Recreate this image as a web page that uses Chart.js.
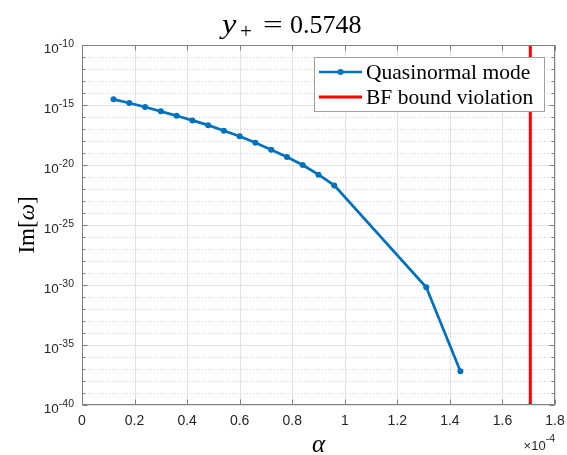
<!DOCTYPE html>
<html>
<head>
<meta charset="utf-8">
<script src="https://cdn.jsdelivr.net/npm/chart.js@4"></script>
<style>
html,body{margin:0;padding:0;background:#fff;}
canvas{display:block;background:#fff;}
</style>
</head>
<body>
<canvas id="c" width="567" height="455"></canvas>
<script>
// ---- data (alpha in units of 1e-4) ----
const alphaE4 = [0.12, 0.18, 0.24, 0.30, 0.36, 0.42, 0.48, 0.54, 0.60, 0.66, 0.72, 0.78, 0.84, 0.90, 0.96, 1.31, 1.44];
const imOmega = [2.95e-15, 1.48e-15, 6.8e-16, 2.95e-16, 1.29e-16, 5.2e-17, 2.1e-17, 7.2e-18, 2.45e-18, 7.2e-19, 1.86e-19, 4.7e-20, 1.0e-20, 1.55e-21, 2.0e-22, 6.5e-31, 6.5e-38];
const bfBoundAlphaE4 = 1.706;
const xTickValues = [0, 0.2, 0.4, 0.6, 0.8, 1.0, 1.2, 1.4, 1.6, 1.8];
const xTickLabels = ['0', '0.2', '0.4', '0.6', '0.8', '1', '1.2', '1.4', '1.6', '1.8'];
const yTickExponents = [-10, -15, -20, -25, -30, -35, -40];
const yTickLabels = ['-10', '-15', '-20', '-25', '-30', '-35', '-40'];
const seriesNames = ['Quasinormal mode', 'BF bound violation'];
const titleValue = '0.5748';

const BLUE = '#0072BD';
const RED = '#FF0000';
const AXIS = '#808080';
const TXT = '#262626';
const SANS = '"Liberation Sans", Arial, sans-serif';
const SERIF = '"Liberation Serif", "Times New Roman", serif';

const yMinExp = -40, yMaxExp = -10;

const decorPlugin = {
  id: 'decor',
  beforeDatasetsDraw(chart) {
    const ctx = chart.ctx, a = chart.chartArea, xs = chart.scales.x, ys = chart.scales.y;
    ctx.save();
    ctx.strokeStyle = '#e2e2e2'; ctx.lineWidth = 1; ctx.setLineDash([]);
    xTickValues.forEach(v => {
      const px = Math.round(xs.getPixelForValue(v)) + 0.5;
      ctx.beginPath(); ctx.moveTo(px, a.top); ctx.lineTo(px, a.bottom); ctx.stroke();
    });
    ctx.strokeStyle = '#d4d4d4'; ctx.setLineDash([1, 2]);
    for (let e = yMinExp; e <= yMaxExp; e++) {
      if (yTickExponents.includes(e)) continue;
      const py = Math.round(ys.getPixelForValue(Math.pow(10, e))) + 0.5;
      ctx.beginPath(); ctx.moveTo(a.left, py); ctx.lineTo(a.right, py); ctx.stroke();
    }
    ctx.strokeStyle = '#e2e2e2'; ctx.setLineDash([]);
    yTickExponents.forEach(e => {
      const py = Math.round(ys.getPixelForValue(Math.pow(10, e))) + 0.5;
      ctx.beginPath(); ctx.moveTo(a.left, py); ctx.lineTo(a.right, py); ctx.stroke();
    });
    ctx.restore();
  },
  afterDraw(chart) {
    const ctx = chart.ctx, a = chart.chartArea, xs = chart.scales.x, ys = chart.scales.y;
    ctx.save();
    ctx.strokeStyle = AXIS; ctx.lineWidth = 1; ctx.setLineDash([]);
    const L = Math.round(a.left) + 0.5, R = Math.round(a.right) - 0.5, T = Math.round(a.top) + 0.5, B = Math.round(a.bottom) - 0.5;
    ctx.strokeRect(L, T, R - L, B - T);
    xTickValues.forEach(v => {
      const px = Math.round(xs.getPixelForValue(v)) + 0.5;
      ctx.beginPath();
      ctx.moveTo(px, B); ctx.lineTo(px, B - 5);
      ctx.moveTo(px, T); ctx.lineTo(px, T + 5);
      ctx.stroke();
    });
    for (let e = yMinExp; e <= yMaxExp; e++) {
      const len = yTickExponents.includes(e) ? 5 : 3;
      const py = Math.round(ys.getPixelForValue(Math.pow(10, e))) + 0.5;
      ctx.beginPath();
      ctx.moveTo(L, py); ctx.lineTo(L + len, py);
      ctx.moveTo(R, py); ctx.lineTo(R - len, py);
      ctx.stroke();
    }
    ctx.fillStyle = TXT;
    ctx.font = '14px ' + SANS;
    ctx.textAlign = 'center'; ctx.textBaseline = 'alphabetic';
    xTickValues.forEach((v, i) => {
      ctx.fillText(xTickLabels[i], xs.getPixelForValue(v), a.bottom + 20);
    });
    yTickExponents.forEach((e, i) => {
      const py = ys.getPixelForValue(Math.pow(10, e));
      ctx.font = '10.5px ' + SANS;
      const sw = ctx.measureText(yTickLabels[i]).width;
      const supX = a.left - 8 - sw;
      ctx.textAlign = 'left';
      ctx.fillText(yTickLabels[i], supX, py + 1.5);
      ctx.font = '13.5px ' + SANS;
      ctx.textAlign = 'right';
      ctx.fillText('10', supX, py + 8);
    });
    ctx.font = '10.5px ' + SANS;
    const mw = ctx.measureText('-4').width;
    ctx.textAlign = 'left';
    ctx.fillText('-4', a.right - mw, 442);
    ctx.font = '13px ' + SANS;
    ctx.textAlign = 'right';
    ctx.fillText('\u00D710', a.right - mw, 450);

    // title: y_+ = 0.5748
    ctx.textAlign = 'left';
    ctx.fillStyle = '#000';
    ctx.save();
    ctx.translate(222, 33); ctx.scale(1.2, 1);
    ctx.font = 'italic 27px ' + SERIF;
    ctx.fillText('y', 0, 0);
    ctx.restore();
    ctx.font = '21px ' + SERIF;
    ctx.fillText('+', 240, 38);
    ctx.save();
    ctx.translate(263, 33); ctx.scale(1.35, 1);
    ctx.font = '26px ' + SERIF;
    ctx.fillText('=', 0, 0);
    ctx.restore();
    ctx.font = '26px ' + SERIF;
    ctx.fillText(titleValue, 290, 33);

    ctx.font = 'italic 25px ' + SERIF;
    ctx.textAlign = 'center';
    ctx.fillText('\u03B1', (a.left + a.right) / 2, 452);

    ctx.save();
    ctx.translate(34, (a.top + a.bottom) / 2);
    ctx.rotate(-Math.PI / 2);
    const parts = [['Im[', '23px ' + SERIF], ['\u03C9', 'italic 23px ' + SERIF], [']', '23px ' + SERIF]];
    let tw = 0;
    parts.forEach(p => { ctx.font = p[1]; tw += ctx.measureText(p[0]).width; });
    let cx = -tw / 2;
    ctx.textAlign = 'left';
    parts.forEach(p => { ctx.font = p[1]; ctx.fillText(p[0], cx, 0); cx += ctx.measureText(p[0]).width; });
    ctx.restore();

    // legend
    const lx = 314.5, ly = 57.5, lw = 230, lh = 54;
    ctx.fillStyle = '#fff';
    ctx.fillRect(lx, ly, lw, lh);
    ctx.strokeStyle = '#a0a0a0'; ctx.lineWidth = 1;
    ctx.strokeRect(lx, ly, lw, lh);
    const rows = [72, 97];
    ctx.strokeStyle = BLUE; ctx.lineWidth = 2.5;
    ctx.beginPath(); ctx.moveTo(319, rows[0]); ctx.lineTo(362, rows[0]); ctx.stroke();
    ctx.fillStyle = BLUE;
    ctx.beginPath(); ctx.arc(340.5, rows[0], 3, 0, Math.PI * 2); ctx.fill();
    ctx.strokeStyle = RED; ctx.lineWidth = 3;
    ctx.beginPath(); ctx.moveTo(319, rows[1]); ctx.lineTo(362, rows[1]); ctx.stroke();
    ctx.fillStyle = '#000';
    ctx.font = '21.5px ' + SERIF;
    ctx.textAlign = 'left';
    ctx.fillText(seriesNames[0], 366, rows[0] + 7);
    ctx.fillText(seriesNames[1], 366, rows[1] + 7);
    ctx.restore();
  }
};

const qnmData = alphaE4.map((x, i) => ({ x: x, y: imOmega[i] }));
const bfData = [{ x: bfBoundAlphaE4, y: Math.pow(10, yMinExp) }, { x: bfBoundAlphaE4, y: Math.pow(10, yMaxExp) }];

new Chart(document.getElementById('c'), {
  type: 'line',
  data: {
    datasets: [
      { label: seriesNames[0], data: qnmData, borderColor: BLUE, backgroundColor: BLUE, borderWidth: 2.7,
        pointRadius: 3, pointBorderWidth: 0, pointBackgroundColor: BLUE, tension: 0, fill: false },
      { label: seriesNames[1], data: bfData, borderColor: RED, borderWidth: 3, pointRadius: 0, tension: 0, fill: false }
    ]
  },
  options: {
    responsive: false,
    devicePixelRatio: 1,
    animation: false,
    layout: { autoPadding: false, padding: { top: 45, right: 12, left: 0, bottom: 0 } },
    plugins: { legend: { display: false }, title: { display: false }, tooltip: { enabled: false } },
    scales: {
      x: {
        type: 'linear', min: 0, max: 1.8,
        ticks: { display: false }, grid: { display: false }, border: { display: false },
        afterFit(s) { s.height = 50; }
      },
      y: {
        type: 'logarithmic', min: Math.pow(10, yMinExp), max: Math.pow(10, yMaxExp),
        ticks: { display: false }, grid: { display: false }, border: { display: false },
        afterFit(s) { s.width = 82; }
      }
    }
  },
  plugins: [decorPlugin]
});
</script>
</body>
</html>
